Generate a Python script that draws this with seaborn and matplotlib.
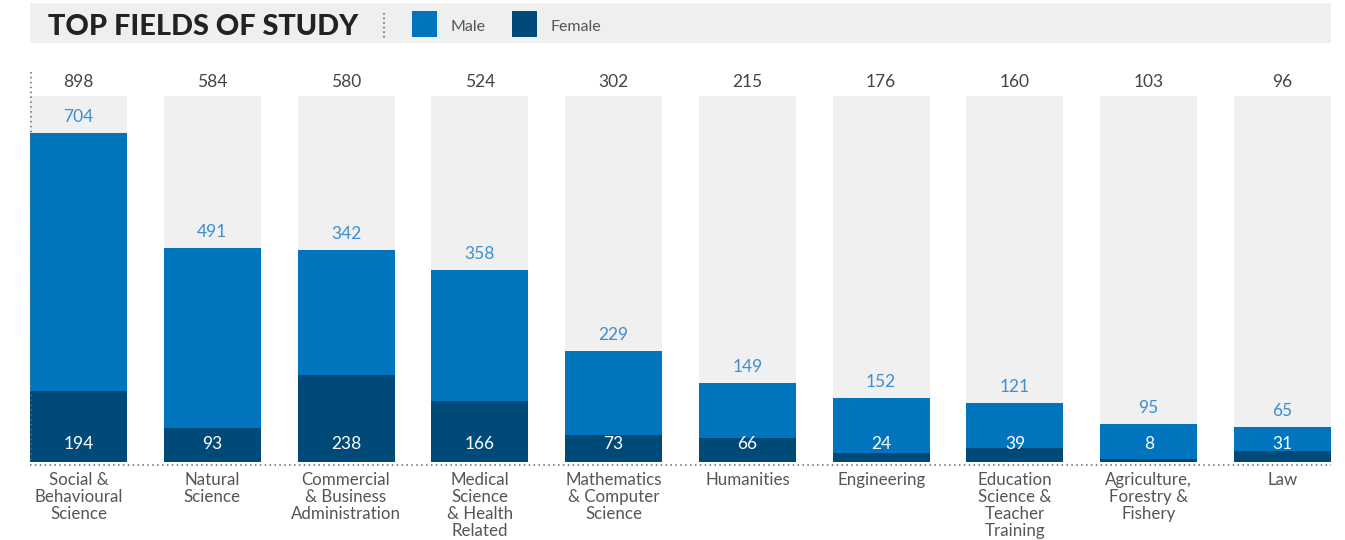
import matplotlib
matplotlib.use("Agg")
import matplotlib.pyplot as plt
from matplotlib.patches import Rectangle
from matplotlib.lines import Line2D
import seaborn as sns
import pandas as pd

# Data
categories = [
    "Social &\nBehavioural\nScience",
    "Natural\nScience",
    "Commercial\n& Business\nAdministration",
    "Medical\nScience\n& Health\nRelated",
    "Mathematics\n& Computer\nScience",
    "Humanities",
    "Engineering",
    "Education\nScience &\nTeacher\nTraining",
    "Agriculture,\nForestry &\nFishery",
    "Law",
]
male = [704, 491, 342, 358, 229, 149, 152, 121, 95, 65]
female = [194, 93, 238, 166, 73, 66, 24, 39, 8, 31]
scale_max = 1000

MALE_C = "#0075BE"
FEMALE_C = "#004A7A"
TRACK_C = "#F0F0F0"
BAND_C = "#EEEFEF"
MALE_LABEL_C = "#3D8ED2"
TEXT_C = "#444444"
LABEL_C = "#555555"

sns.set_theme(style="white")
plt.rcParams["font.family"] = ["Lato", "DejaVu Sans"]

df = pd.DataFrame({
    "field": [f"c{i}" for i in range(len(categories))],
    "male": male,
    "female": female,
})
df["total"] = df["male"] + df["female"]
df["track"] = scale_max

W, H = 1345, 540
fig = plt.figure(figsize=(W / 100, H / 100), dpi=100)

# axes placed in pixel coordinates
left_px, right_px = 30, 1331
bottom_px, top_px = 462, 96
ax = fig.add_axes([left_px / W, 1 - bottom_px / H,
                   (right_px - left_px) / W, (bottom_px - top_px) / H])

bw = 0.725
sns.barplot(data=df, x="field", y="track", color=TRACK_C, width=bw,
            saturation=1, ax=ax, linewidth=0)
sns.barplot(data=df, x="field", y="total", color=MALE_C, width=bw,
            saturation=1, ax=ax, linewidth=0)
sns.barplot(data=df, x="field", y="female", color=FEMALE_C, width=bw,
            saturation=1, ax=ax, linewidth=0)

ax.set_xlim(-bw / 2, len(categories) - 1 + bw / 2)
ax.set_ylim(0, scale_max)
ax.set_xlabel("")
ax.set_ylabel("")
ax.set_xticks([])
ax.set_yticks([])
for s in ax.spines.values():
    s.set_visible(False)

px_per_unit = (bottom_px - top_px) / scale_max

for i, (m, f) in enumerate(zip(male, female)):
    tot = m + f
    ax.text(i, scale_max + 14 / px_per_unit, f"{tot}", ha="center", va="center",
            fontsize=12.5, color=TEXT_C, clip_on=False)
    ax.text(i, tot + 16 / px_per_unit, f"{m}", ha="center", va="center",
            fontsize=12.5, color=MALE_LABEL_C, clip_on=False)
    ax.text(i, 18 / px_per_unit, f"{f}", ha="center", va="center",
            fontsize=12.5, color="white", clip_on=False)
    ax.text(i, -10 / px_per_unit, categories[i], ha="center", va="top",
            fontsize=12.2, color=LABEL_C, linespacing=1.08, clip_on=False)

# dotted baseline and left rule
fig.add_artist(Line2D([left_px / W, right_px / W], [1 - 465 / H, 1 - 465 / H],
                      color="#666666", linestyle=(0, (1, 2.2)), linewidth=1.1))
fig.add_artist(Line2D([31 / W, 31 / W], [1 - 72 / H, 1 - 462 / H],
                      color="#666666", linestyle=(0, (1, 2.2)), linewidth=1.1))

# header band
fig.add_artist(Rectangle((left_px / W, 1 - 43 / H), (right_px - left_px) / W, 40 / H,
                         facecolor=BAND_C, edgecolor="none", zorder=0))
fig.text(48 / W, 1 - 27 / H, "TOP FIELDS OF STUDY", ha="left", va="center",
         fontsize=20.8, fontweight="black", color="#222222")
fig.add_artist(Line2D([384 / W, 384 / W], [1 - 13 / H, 1 - 38 / H],
                      color="#555555", linestyle=(0, (1, 2)), linewidth=1.1))
for x0, col, lab in [(412, MALE_C, "Male"), (512, FEMALE_C, "Female")]:
    fig.add_artist(Rectangle((x0 / W, 1 - 37 / H), 25 / W, 26 / H,
                             facecolor=col, edgecolor="none"))
    fig.text((x0 + 38) / W, 1 - 27 / H, lab, ha="left", va="center",
             fontsize=11.5, color=LABEL_C)

fig.savefig("out.png", dpi=100, facecolor="white")
